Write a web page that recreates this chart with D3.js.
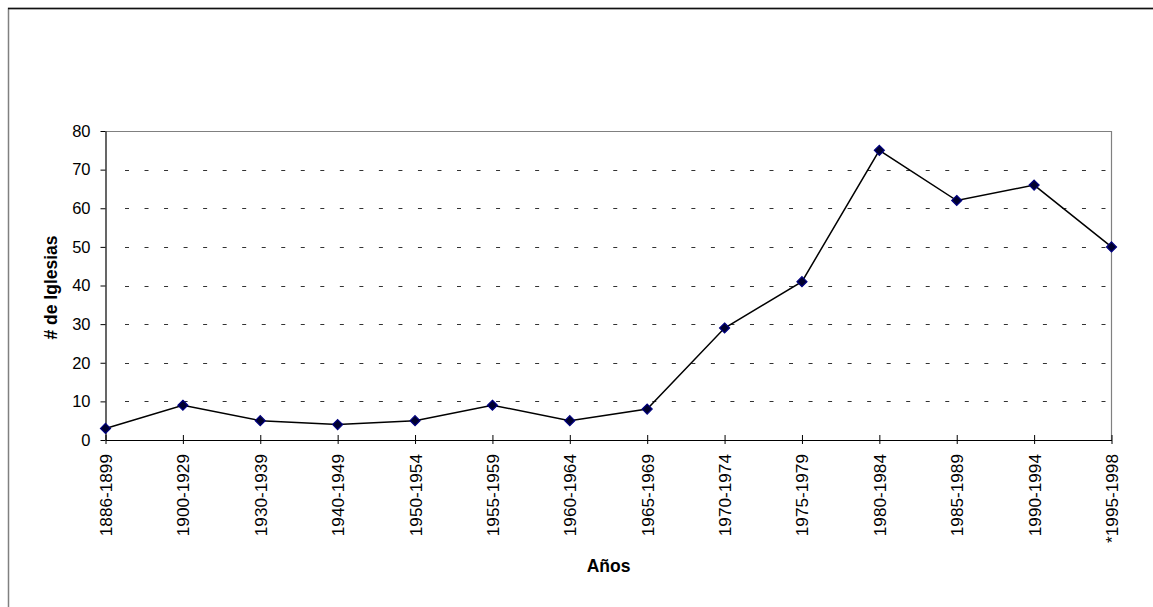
<!DOCTYPE html>
<html>
<head>
<meta charset="utf-8">
<script src="https://cdn.jsdelivr.net/npm/d3@7"></script>
<style>
  html, body { margin: 0; padding: 0; background: #fff; }
  svg { display: block; font-family: Arial, "Liberation Sans", sans-serif; }
</style>
</head>
<body>
<svg id="chart" width="1153" height="607"></svg>
<script>
// Number of churches founded per period
const periods = ["1886-1899", "1900-1929", "1930-1939", "1940-1949", "1950-1954",
  "1955-1959", "1960-1964", "1965-1969", "1970-1974", "1975-1979",
  "1980-1984", "1985-1989", "1990-1994", "*1995-1998"];
const churches = [3, 9, 5, 4, 5, 9, 5, 8, 29, 41, 75, 62, 66, 50];
const yTicks = [0, 10, 20, 30, 40, 50, 60, 70, 80];

const svg = d3.select("#chart");
const plotLeft = 105.5, plotRight = 1111.5, plotTop = 131, plotBottom = 440;

// Outer chart frame
svg.append("path")
  .attr("d", "M8.5,620 V8.5 H1160")
  .attr("fill", "none").attr("stroke", "#808080").attr("stroke-width", 1.5);
svg.append("line")
  .attr("x1", 8).attr("x2", 1160).attr("y1", 8.5).attr("y2", 8.5)
  .attr("stroke", "#111").attr("stroke-width", 1.5);

const x = d3.scalePoint().domain(periods).range([plotLeft, plotRight]).padding(0);
const y = d3.scaleLinear().domain([0, 80]).range([plotBottom, plotTop]);

// Dashed horizontal gridlines
svg.append("g").selectAll("line")
  .data(yTicks.filter(t => t > 0 && t < 80))
  .join("line")
  .attr("x1", plotLeft + 19.5).attr("x2", plotRight)
  .attr("y1", d => Math.round(y(d)) + 0.5).attr("y2", d => Math.round(y(d)) + 0.5)
  .attr("stroke", "#333").attr("stroke-width", 1)
  .attr("stroke-dasharray", "4 15.53");

// Plot-area border (top and right)
svg.append("path")
  .attr("d", `M${plotLeft},${Math.round(plotTop) + 0.5} H${plotRight} V${plotBottom}`)
  .attr("fill", "none").attr("stroke", "#808080").attr("stroke-width", 1.2);

// Y axis
const yAxis = svg.append("g")
  .attr("transform", `translate(${plotLeft},0)`)
  .call(d3.axisLeft(y).tickValues(yTicks).tickSize(5).tickPadding(10).tickSizeOuter(0));
yAxis.select(".domain").attr("stroke", "#000").attr("stroke-width", 1.2);
yAxis.selectAll(".tick line").attr("stroke", "#000");
yAxis.selectAll(".tick text").attr("font-size", 16.5).attr("fill", "#000")
  .attr("font-family", "Arial, 'Liberation Sans', sans-serif");

// X axis with crossing ticks and vertical labels
const xAxis = svg.append("g")
  .attr("transform", `translate(0,${plotBottom})`)
  .call(d3.axisBottom(x).tickSize(4).tickSizeOuter(0));
xAxis.select(".domain").attr("stroke", "#000").attr("stroke-width", 1.2);
xAxis.selectAll(".tick line").attr("stroke", "#000").attr("y1", -5).attr("y2", 4);
xAxis.selectAll(".tick text")
  .attr("font-size", 17.2).attr("fill", "#000")
  .attr("font-family", "Arial, 'Liberation Sans', sans-serif")
  .attr("text-anchor", "end")
  .attr("transform", "translate(0,14) rotate(-90)")
  .attr("x", 0).attr("y", 0).attr("dy", "0.35em");

// Data line
svg.append("path")
  .datum(churches)
  .attr("fill", "none").attr("stroke", "#000").attr("stroke-width", 1.5)
  .attr("d", d3.line().x((d, i) => x(periods[i])).y(d => y(d)));

// Diamond markers
svg.append("g").selectAll("path")
  .data(churches)
  .join("path")
  .attr("transform", (d, i) => `translate(${x(periods[i])},${y(d)})`)
  .attr("d", "M0,-5 L5,0 L0,5 L-5,0 Z")
  .attr("fill", "#000030").attr("stroke", "#000080").attr("stroke-width", 1.2);

// Axis titles
svg.append("text")
  .attr("x", (plotLeft + plotRight) / 2).attr("y", 572)
  .attr("text-anchor", "middle").attr("font-size", 17.5).attr("font-weight", "bold")
  .text("Años");
svg.append("text")
  .attr("transform", `translate(56.5,${(plotTop + plotBottom) / 2 + 2}) rotate(-90)`)
  .attr("text-anchor", "middle").attr("font-size", 17.5).attr("font-weight", "bold")
  .text("# de Iglesias");
</script>
</body>
</html>
